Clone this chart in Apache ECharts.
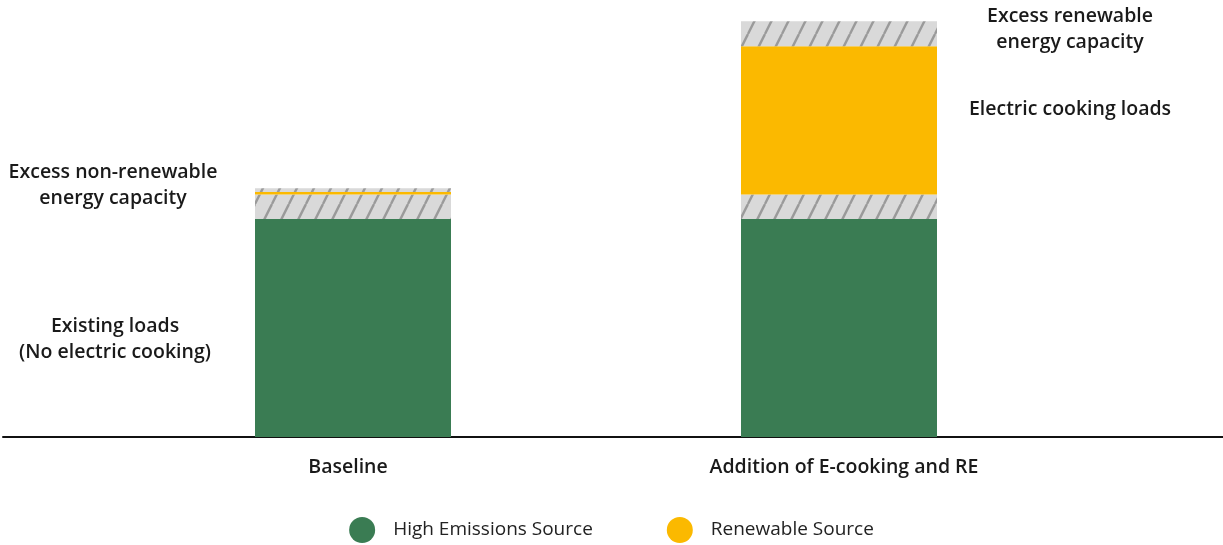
<!DOCTYPE html>
<html>
<head>
<meta charset="utf-8">
<script src="https://cdn.jsdelivr.net/npm/echarts@6/dist/echarts.min.js"></script>
<style>
  html, body { margin: 0; padding: 0; background: #ffffff; }
  #chart { width: 1223px; height: 545px; }
</style>
</head>
<body>
<div id="chart"></div>
<script>
// Scenario categories
const categories = ['Baseline', 'Addition of E-cooking and RE'];

// Stacked capacity components (relative units, existing load = 100)
const existingLoads   = [100, 100];   // high emissions source
const excessNonRenew  = [11.2, 11.2]; // hatched spare non-renewable capacity
const renewableLoads  = [1.2, 68];    // renewable source
const excessRenew     = [1.7, 11.5];  // hatched spare renewable capacity

const GREEN = '#3a7c53';
const YELLOW = '#fbb900';
const FONT = '"Open Sans", sans-serif';
const NOTE_SIZE = 19.5;

// Diagonal hatch pattern for spare capacity
function hatchPattern() {
  const c = document.createElement('canvas');
  c.width = 17; c.height = 34;
  const g = c.getContext('2d');
  g.fillStyle = '#d9d9d9';
  g.fillRect(0, 0, c.width, c.height);
  g.strokeStyle = '#9a9a9a';
  g.lineWidth = 2.4;
  [-17, 0, 17].forEach(function (dx) {
    g.beginPath();
    g.moveTo(dx, 34);
    g.lineTo(dx + 17, 0);
    g.stroke();
  });
  return { image: c, repeat: 'repeat' };
}
const HATCH = hatchPattern();

const noteStyle = {
  show: true,
  fontFamily: FONT,
  fontSize: NOTE_SIZE,
  fontWeight: 600,
  color: '#1a1a1a',
  lineHeight: 26,
  align: 'center',
  verticalAlign: 'middle'
};

function withNote(values, notes) {
  return values.map(function (v, i) {
    const item = { value: v };
    if (notes[i]) {
      item.label = Object.assign({}, noteStyle, notes[i]);
    }
    return item;
  });
}

const chart = echarts.init(document.getElementById('chart'), null, { renderer: 'canvas' });

const catLabelBase = {
  fontFamily: FONT,
  fontSize: NOTE_SIZE,
  fontWeight: 600,
  color: '#1a1a1a'
};

chart.setOption({
  animation: false,
  backgroundColor: '#ffffff',
  legend: {
    data: ['High Emissions Source', 'Renewable Source'],
    top: 512,
    left: 'center',
    icon: 'circle',
    itemWidth: 26,
    itemHeight: 26,
    itemGap: 74,
    textStyle: {
      fontFamily: FONT,
      fontSize: 19,
      color: '#222222',
      padding: [0, 0, 0, 13]
    }
  },
  grid: [
    { left: 110, right: 141, top: 1, bottom: 108 },
    { left: 3, right: 0, top: 1, bottom: 108 }
  ],
  xAxis: [
    {
      type: 'category',
      gridIndex: 0,
      data: categories,
      axisLine: { show: false },
      axisTick: { show: false },
      axisLabel: Object.assign({
        margin: 20,
        formatter: function (value, index) {
          return index === 0 ? '{a|' + value + '}' : '{b|' + value + '}';
        },
        rich: {
          a: Object.assign({ padding: [0, 10, 0, 0] }, catLabelBase),
          b: Object.assign({ padding: [0, 0, 0, 10] }, catLabelBase)
        }
      }, catLabelBase)
    },
    {
      type: 'value',
      gridIndex: 1,
      min: 0, max: 1,
      axisLine: { show: true, lineStyle: { color: '#111111', width: 2 } },
      axisTick: { show: false },
      axisLabel: { show: false },
      splitLine: { show: false }
    }
  ],
  yAxis: [
    { type: 'value', gridIndex: 0, min: 0, max: 200, show: false },
    { type: 'value', gridIndex: 1, min: 0, max: 1, show: false }
  ],
  series: [
    {
      name: 'High Emissions Source',
      type: 'bar',
      stack: 'capacity',
      barWidth: 196,
      itemStyle: { color: GREEN },
      data: withNote(existingLoads, [
        { formatter: 'Existing loads\n(No electric cooking)', position: [-140, 120] },
        null
      ])
    },
    {
      name: 'Excess non-renewable capacity',
      type: 'bar',
      stack: 'capacity',
      barWidth: 196,
      itemStyle: { color: HATCH },
      data: withNote(excessNonRenew, [
        { formatter: 'Excess non-renewable\nenergy capacity', position: [-142, -9] },
        null
      ])
    },
    {
      name: 'Renewable Source',
      type: 'bar',
      stack: 'capacity',
      barWidth: 196,
      itemStyle: { color: YELLOW },
      data: withNote(renewableLoads, [
        null,
        { formatter: 'Electric cooking loads', position: [329, 63] }
      ])
    },
    {
      name: 'Excess renewable capacity',
      type: 'bar',
      stack: 'capacity',
      barWidth: 196,
      itemStyle: { color: HATCH },
      data: withNote(excessRenew, [
        null,
        { formatter: 'Excess renewable\nenergy capacity', position: [329, 8.5] }
      ])
    }
  ]
});
</script>
</body>
</html>
